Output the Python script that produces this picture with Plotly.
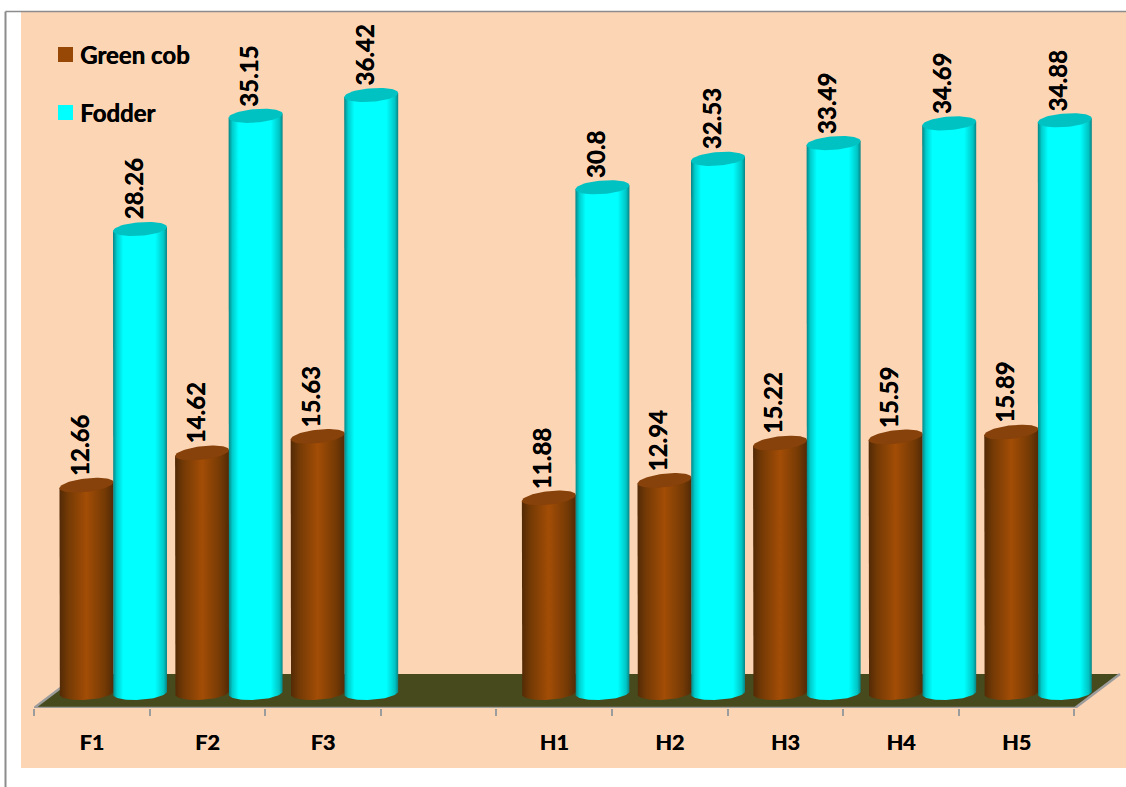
import numpy as np
import plotly.graph_objects as go

# Yield data per treatment; the blank slot separates the F and H groups
categories = ["F1", "F2", "F3", "", "H1", "H2", "H3", "H4", "H5"]
green_cob = [12.66, 14.62, 15.63, None, 11.88, 12.94, 15.22, 15.59, 15.89]
fodder = [28.26, 35.15, 36.42, None, 30.8, 32.53, 33.49, 34.69, 34.88]
value_labels_cob = ["12.66", "14.62", "15.63", "", "11.88", "12.94", "15.22", "15.59", "15.89"]
value_labels_fodder = ["28.26", "35.15", "36.42", "", "30.8", "32.53", "33.49", "34.69", "34.88"]

# Page geometry in pixels
W, H = 1126, 787
LEFT, RIGHT, TOP, BOTTOM = 34, 1122, 13, 708
SLOT_PX = 115.6
UNIT_PX = 16.42
ZERO_PX = 693

x_max = (RIGHT - LEFT) / SLOT_PX
y_min = (ZERO_PX - BOTTOM) / UNIT_PX
y_max = (ZERO_PX - TOP) / UNIT_PX


def px_x(p):
    return (p - LEFT) / SLOT_PX


def px_y(p):
    return (ZERO_PX - p) / UNIT_PX


def paper_x(p):
    return (p - LEFT) / (RIGHT - LEFT)


def paper_y(p):
    return (BOTTOM - p) / (BOTTOM - TOP)


FONT = "Lato, Carlito, 'Open Sans', sans-serif"
PEACH = "#fcd5b5"
GRID = "#9c9c9c"
HEAVY = "0.4px 0 0 #000000"

HALF_W = 27 / SLOT_PX
ELL_H = 6.8 / UNIT_PX
BASE_TILT = 1.5 / UNIT_PX
theta_low = np.linspace(np.pi, 2 * np.pi, 40)
theta_all = np.linspace(0, 2 * np.pi, 80)

series = [
    dict(name="Green cob", values=green_cob, labels=value_labels_cob, offset=0.454, solid="#974706",
         top="#87410a", tilt=3.0 / UNIT_PX, key_top=47,
         scale=[[0, "#522a06"], [0.16, "#743a05"], [0.5, "#a34d06"], [0.84, "#743a05"], [1, "#522a06"]]),
    dict(name="Fodder", values=fodder, labels=value_labels_fodder, offset=0.917, solid="#00ffff",
         top="#00c2c2", tilt=2.0 / UNIT_PX, key_top=105,
         scale=[[0, "#088484"], [0.07, "#00cccc"], [0.19, "#00ffff"], [0.78, "#00ffff"], [0.94, "#00c4c4"], [1, "#0a8484"]]),
]

fig = go.Figure()
annotations = []

# Flat bars carry the values; cylinders are layered on top of them
for s in series:
    xs = [i + s["offset"] for i, v in enumerate(s["values"]) if v is not None]
    ys = [v for v in s["values"] if v is not None]
    fig.add_trace(go.Bar(
        x=xs, y=ys, width=HALF_W * 1.6, name=s["name"], marker=dict(color=s["solid"], line=dict(width=0)),
        showlegend=False,
    ))

for s in series:
    for i, v in enumerate(s["values"]):
        if v is None:
            continue
        cx = i + s["offset"]
        tilt = s["tilt"]
        xb = cx + HALF_W * np.cos(theta_low)
        yb = ELL_H * np.sin(theta_low) + BASE_TILT * np.cos(theta_low)
        body_x = np.concatenate([[cx - HALF_W], xb, [cx + HALF_W, cx - HALF_W]])
        body_y = np.concatenate([[v - tilt], yb, [v + tilt, v - tilt]])
        fig.add_trace(go.Scatter(
            x=body_x, y=body_y, mode="lines", line=dict(width=0), fill="toself",
            fillgradient=dict(type="horizontal", colorscale=s["scale"]),
            showlegend=False, hoverinfo="skip",
        ))
        fig.add_trace(go.Scatter(
            x=cx + HALF_W * np.cos(theta_all),
            y=v + ELL_H * np.sin(theta_all) + tilt * np.cos(theta_all),
            mode="lines", line=dict(width=0), fill="toself", fillcolor=s["top"],
            showlegend=False, hoverinfo="skip",
        ))
        annotations.append(dict(
            x=cx, y=v, xref="x", yref="y", text=s["labels"][i], textangle=-90, showarrow=False,
            xanchor="center", yanchor="bottom", xshift=-7, yshift=7,
            font=dict(family=FONT, size=24, color="#000000", weight="bold", shadow=HEAVY),
        ))

# Peach panel, outer frame and the floor of the chart
shapes = [
    dict(type="rect", xref="paper", yref="paper", x0=paper_x(21), x1=paper_x(W), y0=paper_y(768), y1=paper_y(12),
         fillcolor=PEACH, line=dict(width=0), layer="below"),
    dict(type="line", xref="paper", yref="paper", x0=paper_x(5.5), x1=paper_x(5.5), y0=paper_y(H), y1=paper_y(11.5),
         line=dict(color="#8c8c8c", width=2), layer="below"),
    dict(type="line", xref="paper", yref="paper", x0=paper_x(5.5), x1=paper_x(W), y0=paper_y(11.5), y1=paper_y(11.5),
         line=dict(color="#8c8c8c", width=1.5), layer="below"),
    dict(type="path", xref="x", yref="y",
         path=f"M {px_x(34)},{px_y(708)} L {px_x(1075)},{px_y(708)} L {px_x(1120)},{px_y(674)} L {px_x(79)},{px_y(674)} Z",
         fillcolor="#474a1c", line=dict(width=0), layer="below"),
    dict(type="path", xref="x", yref="y",
         path=f"M {px_x(79)},{px_y(674)} L {px_x(34)},{px_y(708)} L {px_x(1075)},{px_y(708)} L {px_x(1120)},{px_y(674)}",
         line=dict(color=GRID, width=2.5), layer="below"),
]

# Series key in the upper left corner: a square swatch and its name
for s in series:
    shapes.append(dict(
        type="rect", xref="paper", yref="paper",
        x0=paper_x(58), x1=paper_x(73), y0=paper_y(s["key_top"] + 15), y1=paper_y(s["key_top"]),
        fillcolor=s["solid"], line=dict(width=0),
    ))
    annotations.append(dict(
        xref="paper", yref="paper", x=paper_x(78), y=paper_y(s["key_top"] + 7.5), text=s["name"], showarrow=False,
        xanchor="left", yanchor="middle",
        font=dict(family=FONT, size=24, color="#000000", weight="bold", shadow=HEAVY),
    ))

tick_positions = [i + 0.5 for i, c in enumerate(categories) if c]
tick_names = [c for c in categories if c]

fig.update_layout(
    width=W, height=H,
    margin=dict(l=LEFT, r=W - RIGHT, t=TOP, b=H - BOTTOM, pad=0),
    paper_bgcolor="white", plot_bgcolor="rgba(0,0,0,0)",
    barmode="overlay", bargap=0,
    shapes=shapes, annotations=annotations,
    xaxis=dict(
        range=[0, x_max], showgrid=False, zeroline=False, showline=False, ticks="",
        tickmode="array", tickvals=tick_positions, ticktext=tick_names,
        ticklabelstandoff=19,
        tickfont=dict(family=FONT, size=21.5, color="#000000", weight="bold", shadow=HEAVY),
        minor=dict(tickmode="array", tickvals=list(range(len(categories) + 1)), ticks="outside", ticklen=7,
                   tickwidth=2, tickcolor=GRID, showgrid=False),
    ),
    yaxis=dict(range=[y_min, y_max], visible=False),
    showlegend=False,
    hovermode=False,
)

fig.write_html("out.html")
